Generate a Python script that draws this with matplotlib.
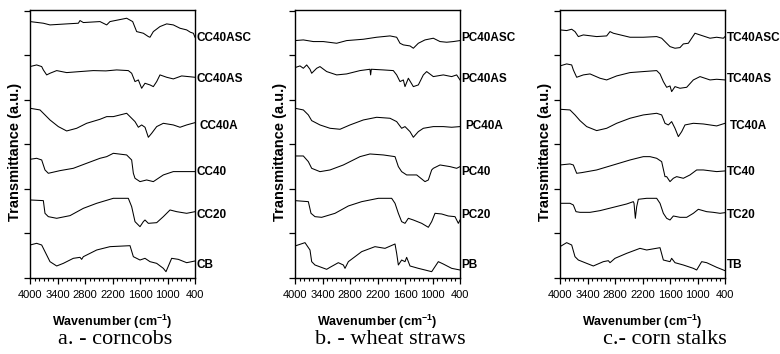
import matplotlib
matplotlib.use("Agg")
import matplotlib.pyplot as plt
from matplotlib.ticker import MultipleLocator, FixedLocator

# ---------------- data (wavenumber cm-1, transmittance a.u.) ----------------
# Panel a - corncobs
cc40asc_wn = [4000, 3709, 3564, 3200, 2945, 2909, 2836, 2473, 2327, 2255, 1891, 1760, 1673, 1527, 1418, 1382, 1309, 1164, 1018, 873, 727, 582, 500, 436, 400]
cc40asc_t = [5.760, 5.723, 5.685, 5.708, 5.723, 5.783, 5.738, 5.760, 5.685, 5.760, 5.835, 5.760, 5.535, 5.498, 5.423, 5.408, 5.535, 5.648, 5.708, 5.685, 5.610, 5.573, 5.52, 5.498, 5.408]
cc40as_wn = [4000, 3855, 3745, 3709, 3636, 3564, 3418, 3200, 2909, 2618, 2345, 2109, 1855, 1782, 1709, 1636, 1564, 1491, 1382, 1309, 1236, 1164, 1018, 873, 691, 545, 400]
cc40as_t = [4.749, 4.786, 4.749, 4.674, 4.562, 4.599, 4.659, 4.614, 4.637, 4.659, 4.652, 4.674, 4.659, 4.599, 4.412, 4.449, 4.262, 4.374, 4.337, 4.299, 4.412, 4.562, 4.509, 4.472, 4.539, 4.524, 4.509]
cc40a_wn = [4000, 3782, 3673, 3564, 3382, 3200, 2982, 2764, 2473, 2327, 2182, 1891, 1709, 1636, 1564, 1491, 1418, 1345, 1236, 1091, 873, 727, 582, 400]
cc40a_t = [3.813, 3.775, 3.663, 3.550, 3.401, 3.303, 3.363, 3.475, 3.565, 3.625, 3.625, 3.700, 3.513, 3.386, 3.438, 3.386, 3.161, 3.251, 3.401, 3.475, 3.438, 3.386, 3.438, 3.490]
cc40_wn = [4000, 3855, 3745, 3673, 3600, 3345, 3055, 2764, 2473, 2327, 2182, 1891, 1782, 1745, 1709, 1600, 1455, 1309, 1091, 873, 582, 400]
cc40_t = [2.666, 2.689, 2.651, 2.427, 2.352, 2.412, 2.464, 2.577, 2.689, 2.726, 2.801, 2.764, 2.651, 2.352, 2.240, 2.165, 2.202, 2.165, 2.315, 2.390, 2.390, 2.390]
cc20_wn = [4000, 3709, 3673, 3600, 3418, 3127, 2836, 2545, 2182, 1855, 1782, 1709, 1600, 1527, 1491, 1418, 1236, 1091, 945, 800, 582, 400]
cc20_t = [1.753, 1.738, 1.453, 1.378, 1.341, 1.401, 1.565, 1.678, 1.790, 1.790, 1.603, 1.266, 1.153, 1.266, 1.303, 1.228, 1.243, 1.378, 1.528, 1.490, 1.453, 1.490]
cb_wn = [4000, 3855, 3745, 3673, 3564, 3418, 3273, 3055, 2909, 2873, 2836, 2545, 2255, 1818, 1745, 1600, 1491, 1382, 1236, 1091, 1033, 909, 764, 582, 400]
cb_t = [0.741, 0.779, 0.741, 0.592, 0.367, 0.270, 0.329, 0.442, 0.464, 0.419, 0.479, 0.629, 0.704, 0.726, 0.479, 0.404, 0.442, 0.367, 0.329, 0.217, 0.142, 0.442, 0.419, 0.344, 0.382]

# Panel b - wheat straws
pc40asc_wn = [4000, 3818, 3600, 3382, 3091, 2873, 2509, 2218, 1927, 1782, 1709, 1636, 1491, 1418, 1309, 1164, 982, 836, 691, 545, 400]
pc40asc_t = [5.333, 5.348, 5.311, 5.311, 5.273, 5.333, 5.363, 5.408, 5.438, 5.408, 5.273, 5.236, 5.213, 5.161, 5.273, 5.348, 5.386, 5.311, 5.296, 5.311, 5.333]
pc40as_wn = [4000, 3891, 3818, 3745, 3673, 3636, 3527, 3455, 3309, 3091, 2873, 2582, 2364, 2350, 2335, 2073, 1855, 1782, 1709, 1636, 1600, 1527, 1418, 1309, 1200, 1127, 982, 764, 582, 473, 400]
pc40as_t = [4.726, 4.764, 4.711, 4.786, 4.689, 4.599, 4.711, 4.749, 4.637, 4.562, 4.584, 4.659, 4.689, 4.562, 4.689, 4.674, 4.659, 4.562, 4.412, 4.449, 4.299, 4.487, 4.299, 4.337, 4.562, 4.637, 4.524, 4.562, 4.524, 4.562, 4.449]
pc40a_wn = [4000, 3818, 3709, 3636, 3455, 3236, 3018, 2800, 2509, 2218, 1927, 1782, 1673, 1600, 1491, 1418, 1309, 1200, 982, 764, 582, 400]
pc40a_t = [3.813, 3.775, 3.663, 3.535, 3.438, 3.363, 3.341, 3.438, 3.550, 3.610, 3.588, 3.513, 3.363, 3.401, 3.288, 3.161, 3.288, 3.363, 3.401, 3.401, 3.386, 3.401]
pc40_wn = [4000, 3818, 3709, 3636, 3455, 3236, 2945, 2582, 2364, 2073, 1818, 1745, 1673, 1564, 1345, 1164, 1091, 1018, 982, 836, 618, 473, 400]
pc40_t = [2.741, 2.741, 2.614, 2.464, 2.389, 2.427, 2.539, 2.726, 2.786, 2.764, 2.726, 2.502, 2.389, 2.315, 2.315, 2.165, 2.202, 2.427, 2.464, 2.539, 2.502, 2.464, 2.502]
pc20_wn = [4000, 3709, 3651, 3564, 3418, 3127, 2836, 2545, 2182, 1891, 1818, 1745, 1673, 1600, 1527, 1418, 1236, 1091, 1018, 945, 800, 655, 509, 436, 400]
pc20_t = [1.738, 1.715, 1.453, 1.378, 1.363, 1.453, 1.618, 1.715, 1.790, 1.790, 1.678, 1.453, 1.266, 1.228, 1.341, 1.303, 1.228, 1.139, 1.266, 1.453, 1.438, 1.393, 1.378, 1.228, 1.303]
pb_wn = [4000, 3782, 3673, 3636, 3564, 3309, 3236, 3055, 2945, 2909, 2836, 2545, 2255, 2036, 1818, 1782, 1745, 1673, 1600, 1564, 1527, 1491, 1309, 1164, 1018, 873, 764, 582, 400]
pb_t = [0.719, 0.794, 0.629, 0.367, 0.292, 0.195, 0.240, 0.344, 0.292, 0.217, 0.367, 0.592, 0.704, 0.666, 0.764, 0.554, 0.292, 0.404, 0.367, 0.464, 0.367, 0.270, 0.217, 0.180, 0.142, 0.367, 0.314, 0.217, 0.180]

# Panel c - corn stalks
tc40asc_wn = [4000, 3855, 3745, 3673, 3600, 3491, 3200, 2982, 2909, 2836, 2473, 2182, 1891, 1782, 1673, 1600, 1491, 1382, 1309, 1200, 1055, 945, 727, 582, 436, 400]
tc40asc_t = [5.573, 5.558, 5.588, 5.535, 5.423, 5.460, 5.423, 5.438, 5.535, 5.498, 5.408, 5.408, 5.423, 5.386, 5.273, 5.198, 5.161, 5.176, 5.258, 5.273, 5.498, 5.460, 5.386, 5.408, 5.386, 5.423]
tc40as_wn = [4000, 3855, 3745, 3709, 3636, 3491, 3345, 3127, 2982, 2764, 2473, 2182, 1891, 1818, 1745, 1673, 1600, 1564, 1491, 1382, 1236, 1091, 945, 727, 582, 400]
tc40as_t = [4.764, 4.809, 4.786, 4.674, 4.509, 4.562, 4.584, 4.487, 4.449, 4.539, 4.614, 4.637, 4.659, 4.584, 4.412, 4.284, 4.314, 4.187, 4.299, 4.262, 4.284, 4.449, 4.524, 4.449, 4.464, 4.449]
tc40a_wn = [4000, 3782, 3673, 3564, 3418, 3200, 2982, 2764, 2473, 2182, 1891, 1782, 1709, 1636, 1564, 1491, 1418, 1345, 1273, 1091, 873, 727, 582, 400]
tc40a_t = [3.790, 3.775, 3.663, 3.535, 3.401, 3.311, 3.363, 3.475, 3.588, 3.663, 3.700, 3.663, 3.475, 3.438, 3.513, 3.363, 3.176, 3.288, 3.438, 3.475, 3.460, 3.438, 3.416, 3.475]
tc40_wn = [4000, 3782, 3709, 3636, 3527, 3200, 2836, 2473, 2327, 2182, 2036, 1891, 1782, 1709, 1673, 1600, 1527, 1455, 1309, 1164, 1018, 873, 582, 400]
tc40_t = [2.539, 2.562, 2.539, 2.352, 2.367, 2.427, 2.539, 2.651, 2.689, 2.726, 2.726, 2.689, 2.614, 2.277, 2.277, 2.165, 2.240, 2.277, 2.240, 2.315, 2.427, 2.427, 2.390, 2.405]
tc20_wn = [4000, 3782, 3709, 3651, 3564, 3345, 3127, 2836, 2545, 2400, 2385, 2356, 2327, 2291, 2109, 1891, 1818, 1745, 1673, 1600, 1527, 1382, 1236, 1091, 982, 800, 655, 509, 400]
tc20_t = [1.678, 1.678, 1.640, 1.490, 1.475, 1.475, 1.513, 1.588, 1.663, 1.715, 1.678, 1.341, 1.603, 1.768, 1.790, 1.790, 1.678, 1.453, 1.341, 1.303, 1.393, 1.363, 1.363, 1.453, 1.543, 1.490, 1.475, 1.453, 1.468]
tb_wn = [4000, 3855, 3745, 3673, 3600, 3418, 3273, 3055, 2945, 2909, 2800, 2545, 2255, 2109, 1818, 1745, 1600, 1564, 1491, 1309, 1091, 1018, 909, 800, 582, 400]
tb_t = [0.704, 0.794, 0.741, 0.479, 0.404, 0.329, 0.270, 0.367, 0.389, 0.344, 0.442, 0.554, 0.666, 0.629, 0.681, 0.404, 0.367, 0.442, 0.344, 0.292, 0.217, 0.180, 0.367, 0.344, 0.240, 0.165]

labels_a = ["CC40ASC", "CC40AS", "CC40A", "CC40", "CC20", "CB"]
labels_b = ["PC40ASC", "PC40AS", "PC40A", "PC40", "PC20", "PB"]
labels_c = ["TC40ASC", "TC40AS", "TC40A", "TC40", "TC20", "TB"]
captions = ["a. - corncobs", "b. - wheat straws", "c.- corn stalks"]
xtick_values = [4000, 3400, 2800, 2200, 1600, 1000, 400]

panels = [
    (labels_a, [(cc40asc_wn, cc40asc_t), (cc40as_wn, cc40as_t), (cc40a_wn, cc40a_t),
                (cc40_wn, cc40_t), (cc20_wn, cc20_t), (cb_wn, cb_t)]),
    (labels_b, [(pc40asc_wn, pc40asc_t), (pc40as_wn, pc40as_t), (pc40a_wn, pc40a_t),
                (pc40_wn, pc40_t), (pc20_wn, pc20_t), (pb_wn, pb_t)]),
    (labels_c, [(tc40asc_wn, tc40asc_t), (tc40as_wn, tc40as_t), (tc40a_wn, tc40a_t),
                (tc40_wn, tc40_t), (tc20_wn, tc20_t), (tb_wn, tb_t)]),
]

# ---------------- drawing ----------------
plt.rcParams['font.family'] = ['Liberation Sans', 'DejaVu Sans']
plt.rcParams['mathtext.fontset'] = 'custom'
plt.rcParams['mathtext.rm'] = 'Liberation Sans:bold'
plt.rcParams['mathtext.it'] = 'Liberation Sans:bold'
plt.rcParams['mathtext.bf'] = 'Liberation Sans:bold'

W, H = 780, 354
fig = plt.figure(figsize=(W / 100, H / 100), dpi=100)

lefts_px = [30, 295, 560]
caption_x_px = [115, 390, 665]
label_y = [5.39, 4.47, 3.42, 2.38, 1.42, 0.29]
label_dx = [1.2, 1.2, 3.5, 1.2, 1.2, 1.2]

for i, (names, series) in enumerate(panels):
    ax = fig.add_axes([lefts_px[i] / W, 76 / H, 165 / W, 268 / H])
    for (wn, t) in series:
        ax.plot(wn, t, color='black', lw=0.75)
    ax.set_xlim(4000, 400)
    ax.set_ylim(0, 6.02)
    ax.xaxis.set_major_locator(FixedLocator(xtick_values))
    ax.xaxis.set_minor_locator(MultipleLocator(100))
    ax.yaxis.set_major_locator(MultipleLocator(1))
    ax.set_yticklabels([])
    ax.tick_params(axis='both', which='major', direction='out', length=4, width=0.9,
                   labelsize=8, pad=5, top=False, right=False)
    ax.tick_params(axis='x', which='minor', direction='out', length=2.5, width=0.8)
    ax.set_xticklabels([str(v) for v in xtick_values])
    for s in ax.spines.values():
        s.set_linewidth(1.0)
    for name, yl, dx in zip(names, label_y, label_dx):
        ax.annotate(name, xy=(1.0, yl), xycoords=('axes fraction', 'data'),
                    xytext=(dx, 0), textcoords='offset points', ha='left', va='center',
                    fontsize=8.5, fontweight='bold', annotation_clip=False)
    cx = (lefts_px[i] + 165 / 2) / W
    fig.text(cx, (H - 322) / H, "Wavenumber (cm$^{-1}$)", ha='center', va='center',
             fontsize=9, fontweight='bold')
    fig.text(lefts_px[i] / W - 15 / W, (H - 152) / H, "Transmittance (a.u.)", rotation=90,
             ha='center', va='center', fontsize=10.5, fontweight='bold')
    fig.text(caption_x_px[i] / W, (H - 340) / H, captions[i], ha='center', va='center',
             fontsize=16, family='Liberation Serif')

fig.savefig("out.png", dpi=100)
